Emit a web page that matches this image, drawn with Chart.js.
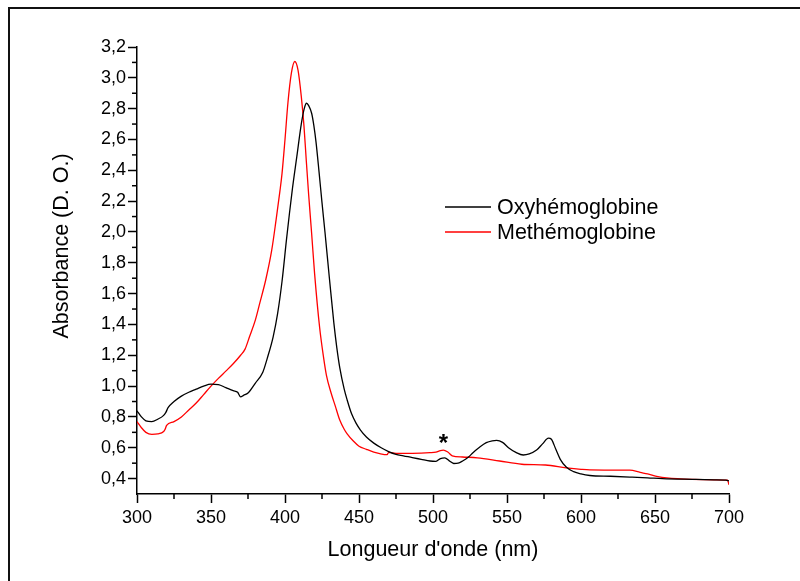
<!DOCTYPE html>
<html>
<head>
<meta charset="utf-8">
<script src="https://cdn.jsdelivr.net/npm/chart.js@4.4.1/dist/chart.umd.min.js"></script>
<style>
    body { margin: 0; background: #fff; }
    #wrap { width: 800px; height: 581px; position: relative; }
</style>
</head>
<body>
<div id="wrap"><canvas id="spectre"></canvas></div>
<script>
const oxyNm = [300, 303, 306, 310, 314, 318, 319.5, 321, 325, 330, 335, 340, 345, 350, 355, 360, 365, 368, 370, 372,
    375, 380, 385, 388, 392, 395, 398, 401, 403, 405, 408, 411, 413, 414.5, 416, 418, 419.5, 421, 423, 425,
    427, 430, 433, 435, 437, 440, 442, 445, 448, 451, 455, 460, 465, 470, 475, 480, 486, 492, 498, 502,
    505, 508, 511, 514, 517, 520, 524, 527, 531, 536, 540, 543, 547, 551, 556, 561, 565, 570, 574, 578,
    580, 583, 586, 590, 595, 600, 606, 620, 633, 645, 655, 675, 690, 698, 700];
const oxyAbs = [0.84, 0.80, 0.775, 0.77, 0.785, 0.81, 0.83, 0.86, 0.90, 0.935, 0.96, 0.98, 1.0, 1.013, 1.01, 0.99, 0.97, 0.96, 0.93, 0.94,
    0.955, 1.02, 1.09, 1.18, 1.32, 1.47, 1.68, 1.95, 2.12, 2.28, 2.49, 2.70, 2.80, 2.835, 2.82, 2.77, 2.69, 2.58, 2.39, 2.19,
    2.0, 1.70, 1.41, 1.25, 1.12, 0.98, 0.91, 0.82, 0.76, 0.715, 0.67, 0.63, 0.60, 0.575, 0.557, 0.548, 0.536, 0.525, 0.514, 0.512,
    0.53, 0.535, 0.515, 0.498, 0.50, 0.514, 0.54, 0.568, 0.60, 0.633, 0.645, 0.648, 0.635, 0.60, 0.57, 0.553, 0.56, 0.585, 0.625, 0.663,
    0.655, 0.59, 0.525, 0.475, 0.445, 0.43, 0.42, 0.415, 0.41, 0.405, 0.40, 0.395, 0.392, 0.39, 0.385];

const metNm = [300, 303, 306, 310, 314, 318, 319, 320, 325, 330, 335, 340, 345, 350, 355, 360, 365, 370, 373, 376,
    380, 383, 387, 391, 394, 396.5, 398, 400, 402, 404.3, 406.6, 408.8, 411, 412.8, 414.4, 416, 418, 420, 423.4, 426,
    428, 431, 434, 437, 440, 442, 446, 450, 455, 460, 464, 469, 470, 475, 486, 498, 502, 505, 507, 510,
    513, 520, 530, 545, 560, 576, 590, 600, 606, 620, 633, 640, 645, 652, 658, 675, 690, 699, 700];
const metAbs = [0.77, 0.73, 0.70, 0.687, 0.69, 0.705, 0.72, 0.745, 0.77, 0.80, 0.845, 0.89, 0.945, 1.0, 1.05, 1.097, 1.145, 1.2, 1.24, 1.32,
    1.43, 1.54, 1.69, 1.88, 2.08, 2.26, 2.38, 2.60, 2.84, 3.03, 3.106, 3.05, 2.88, 2.69, 2.46, 2.24, 1.99, 1.73, 1.38, 1.19,
    1.07, 0.96, 0.87, 0.78, 0.72, 0.69, 0.645, 0.61, 0.59, 0.572, 0.562, 0.555, 0.57, 0.564, 0.564, 0.568, 0.572, 0.582, 0.585, 0.572,
    0.548, 0.54, 0.535, 0.514, 0.493, 0.488, 0.47, 0.46, 0.456, 0.455, 0.455, 0.44, 0.43, 0.413, 0.405, 0.395, 0.392, 0.39, 0.36];

const seriesNames = ['Oxyhémoglobine', 'Methémoglobine'];
const xTicks = [300, 350, 400, 450, 500, 550, 600, 650, 700];
const xMinor = [325, 375, 425, 475, 525, 575, 625, 675];
const yTicks = [0.4, 0.6, 0.8, 1.0, 1.2, 1.4, 1.6, 1.8, 2.0, 2.2, 2.4, 2.6, 2.8, 3.0, 3.2];
const yMinor = [0.5, 0.7, 0.9, 1.1, 1.3, 1.5, 1.7, 1.9, 2.1, 2.3, 2.5, 2.7, 2.9, 3.1];
const xTitle = "Longueur d'onde (nm)";
const yTitle = 'Absorbance (D. O.)';
const starMark = { x: 507, y: 0.645, text: '*' };

const FONT = '"Liberation Sans", Arial, sans-serif';

function toPoints(xs, ys) {
    return xs.map((x, i) => ({ x: x, y: ys[i] }));
}

const extras = {
    id: 'extras',
    afterDraw(chart) {
        const ctx = chart.ctx;
        const area = chart.chartArea;
        const xs = chart.scales.x;
        const ys = chart.scales.y;
        ctx.save();

        // minor ticks
        ctx.strokeStyle = '#000';
        ctx.lineWidth = 1.5;
        xMinor.forEach(v => {
            const px = xs.getPixelForValue(v);
            ctx.beginPath();
            ctx.moveTo(px, area.bottom);
            ctx.lineTo(px, area.bottom + 5);
            ctx.stroke();
        });
        yMinor.forEach(v => {
            const py = ys.getPixelForValue(v);
            ctx.beginPath();
            ctx.moveTo(area.left, py);
            ctx.lineTo(area.left - 5, py);
            ctx.stroke();
        });

        // axis titles
        ctx.fillStyle = '#000';
        ctx.font = '21.5px ' + FONT;
        ctx.textAlign = 'center';
        ctx.textBaseline = 'middle';
        ctx.fillText(xTitle, (area.left + area.right) / 2, 550);
        ctx.save();
        ctx.translate(62, 246);
        ctx.rotate(-Math.PI / 2);
        ctx.fillText(yTitle, 0, 0);
        ctx.restore();

        // legend
        ctx.textAlign = 'left';
        chart.data.datasets.forEach((ds, i) => {
            const ly = 207 + i * 25;
            ctx.strokeStyle = ds.borderColor;
            ctx.lineWidth = 1.3;
            ctx.beginPath();
            ctx.moveTo(445, ly);
            ctx.lineTo(491, ly);
            ctx.stroke();
            ctx.fillText(ds.label, 497, ly + 1);
        });

        // asterisk
        ctx.font = 'bold 24px ' + FONT;
        ctx.textAlign = 'center';
        ctx.fillText(starMark.text, xs.getPixelForValue(starMark.x), ys.getPixelForValue(starMark.y) + 4);

        // outer frame
        ctx.strokeStyle = '#111';
        ctx.lineWidth = 2;
        ctx.beginPath();
        ctx.moveTo(9, 581);
        ctx.lineTo(9, 8);
        ctx.lineTo(800, 8);
        ctx.stroke();
        ctx.restore();
    }
};

const spectre = new Chart(document.getElementById('spectre').getContext('2d'), {
    type: 'line',
    data: {
        datasets: [{
            label: seriesNames[0],
            data: toPoints(oxyNm, oxyAbs),
            borderColor: '#000000',
            borderWidth: 1.3,
            pointRadius: 0,
            fill: false,
            cubicInterpolationMode: 'monotone'
        }, {
            label: seriesNames[1],
            data: toPoints(metNm, metAbs),
            borderColor: '#ff0000',
            borderWidth: 1.3,
            pointRadius: 0,
            fill: false,
            cubicInterpolationMode: 'monotone'
        }]
    },
    options: {
        responsive: true,
        maintainAspectRatio: false,
        animation: false,
        layout: {
            padding: { top: 47, right: 71, left: 0, bottom: 0 }
        },
        scales: {
            x: {
                type: 'linear',
                min: 300,
                max: 700,
                afterFit: s => { s.height = 87; },
                afterBuildTicks: s => { s.ticks = xTicks.map(v => ({ value: v })); },
                grid: { drawOnChartArea: false, tickLength: 9, tickColor: '#000', tickWidth: 1.5 },
                border: { color: '#000', width: 1.5 },
                ticks: {
                    color: '#000',
                    padding: 4,
                    maxRotation: 0,
                    font: { family: FONT, size: 18 }
                }
            },
            y: {
                min: 0.3,
                max: 3.2,
                afterFit: s => { s.width = 137; },
                afterBuildTicks: s => { s.ticks = yTicks.map(v => ({ value: v })); },
                grid: { drawOnChartArea: false, tickLength: 9, tickColor: '#000', tickWidth: 1.5 },
                border: { color: '#000', width: 1.5 },
                ticks: {
                    color: '#000',
                    padding: 2,
                    font: { family: FONT, size: 18 },
                    callback: function(value) {
                        return value.toFixed(1).replace('.', ',');
                    }
                }
            }
        },
        plugins: {
            legend: { display: false },
            tooltip: { enabled: false }
        }
    },
    plugins: [extras]
});
</script>
</body>
</html>
